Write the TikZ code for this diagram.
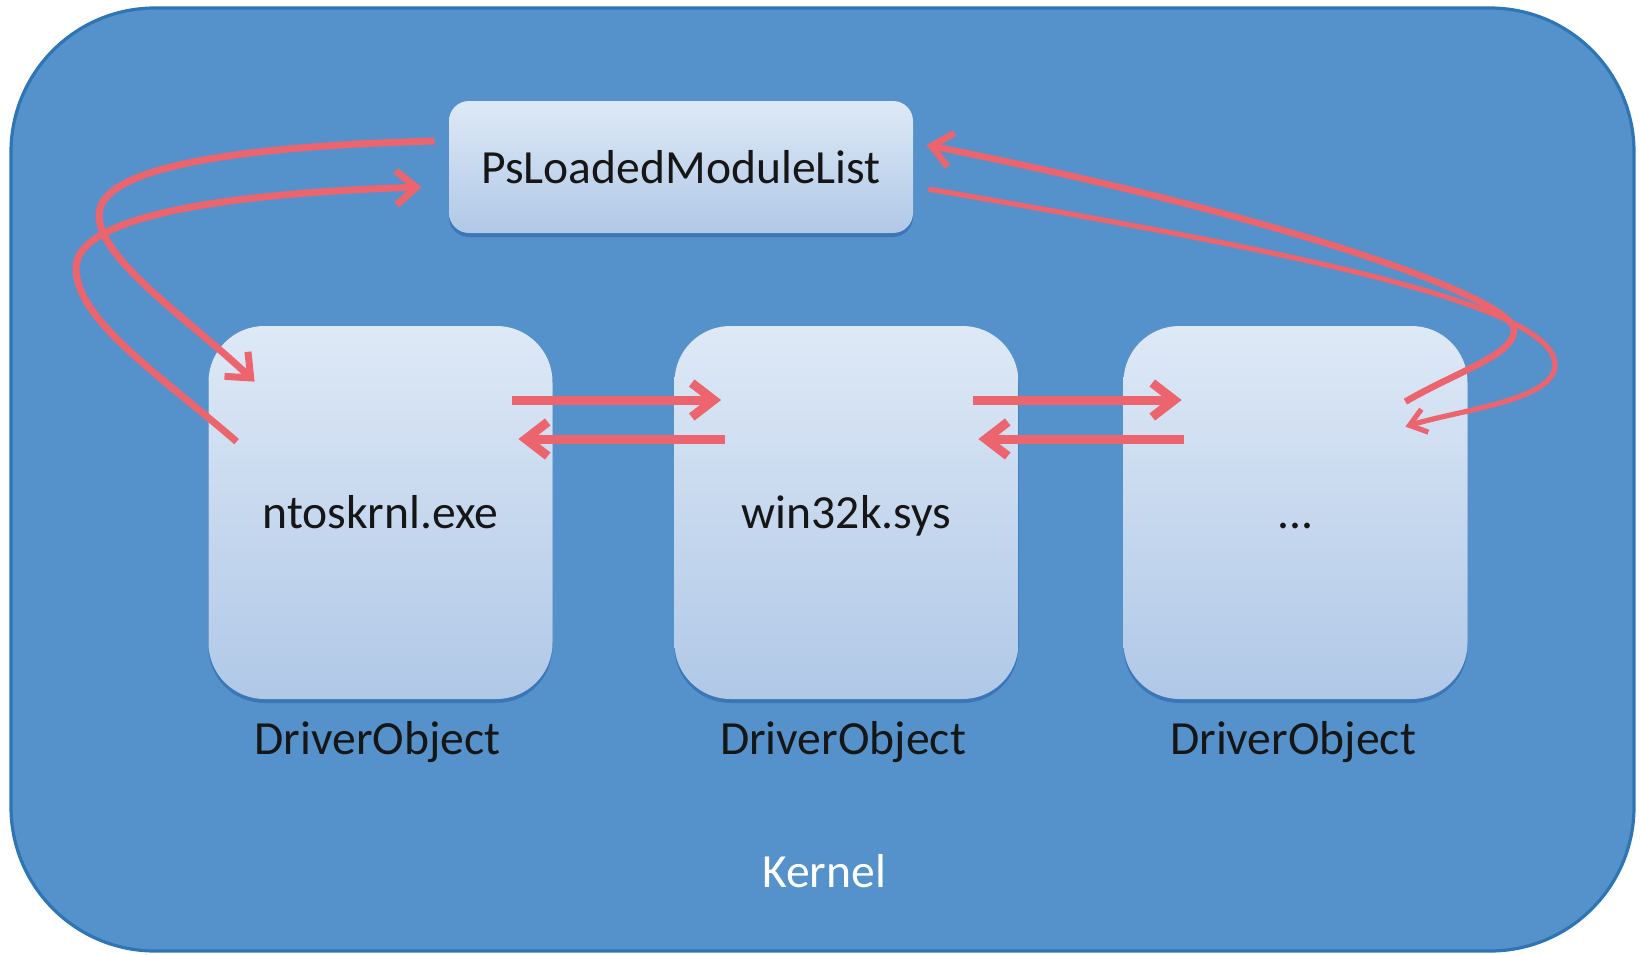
\documentclass[tikz,border=0pt]{standalone}
\usepackage{fontspec}
\setmainfont{Carlito}
\usetikzlibrary{arrows.meta,calc,shadows}

\definecolor{kernelfill}{RGB}{85,146,203}
\definecolor{kernelline}{RGB}{46,117,182}
\definecolor{boxtop}{RGB}{222,233,246}
\definecolor{boxbot}{RGB}{176,200,231}
\definecolor{boxshade}{RGB}{38,98,168}
\definecolor{linkred}{RGB}{236,100,110}
\definecolor{inktext}{RGB}{22,22,22}

\begin{document}
\begin{tikzpicture}[x=0.5pt,y=-0.5pt,
  font=\fontsize{23.8}{28}\selectfont,
  panel/.style={rectangle, rounded corners=10pt, top color=boxtop, bottom color=boxbot,
    drop shadow={shadow xshift=0pt, shadow yshift=-2pt, fill=boxshade, opacity=.55},
    text=inktext, inner sep=0pt},
  listbox/.style={panel, minimum width=232pt, minimum height=66pt},
  drvbox/.style={panel, rounded corners=28pt, minimum width=172pt, minimum height=186.5pt,
    text height=15.5pt, text depth=0pt},
  caption/.style={anchor=base, text=inktext, inner sep=0pt},
  flat/.style={draw=linkred, line width=4.5pt,
    -{Straight Barb[length=11pt, width=17pt]}},
  loop/.style={draw=linkred, line width=3.5pt,
    -{Straight Barb[length=10pt, width=17pt]}},
  thinloop/.style={draw=linkred, line width=2.6pt,
    -{Straight Barb[length=8pt, width=12pt]}}
]
\useasboundingbox (0,0) rectangle (1640,954);

% kernel area
\path[fill=kernelfill, draw=kernelline, line width=1.6pt, rounded corners=72pt]
  (11,8) rectangle (1634,951);
\node[anchor=base, text=white, inner sep=0pt] (kernel) at (824,887) {Kernel};

% module list and driver objects
\node[listbox] (list) at (681,167) {PsLoadedModuleList};
\node[drvbox] (b1) at (380.5,512.5) {ntoskrnl.exe};
\node[drvbox] (b2) at (846.5,512.5) {win32k.sys};
\node[drvbox] (b3) at (1295.5,512.5) {...};

\node[caption] (l1) at (377.5,754) {DriverObject};
\node[caption] (l2) at (843,754) {DriverObject};
\node[caption] (l3) at (1293,754) {DriverObject};

% links between neighbouring driver objects
\draw[flat] ([shift={(-40.5,-112.5)}]b1.east) -- ([shift={(47,-112.5)}]b2.west);
\draw[flat] ([shift={(50.5,-73.5)}]b2.west) -- ([shift={(-34.5,-73.5)}]b1.east);
\draw[flat] ([shift={(-45.5,-112.5)}]b2.east) -- ([shift={(58.5,-112.5)}]b3.west);
\draw[flat] ([shift={(60.5,-73.5)}]b3.west) -- ([shift={(-40.5,-73.5)}]b2.east);

% list head <-> first entry
\draw[loop] ([shift={(-14,-26)}]list.west)
  .. controls (250,146) and (99,165) .. (99,215)
  .. controls (99,260) and (190,320) .. ([shift={(46.5,56)}]b1.north west);
\draw[loop] ([shift={(28.5,116)}]b1.north west)
  .. controls (160,375) and (76,320) .. (76,268)
  .. controls (76,225) and (180,195) .. ([shift={(-27,20)}]list.west);

% list head <-> last entry
\draw[loop, line width=3.3pt] ([shift={(-62.5,76)}]b3.north east)
  .. controls (1460,370) and (1514,355) .. (1514,330)
  .. controls (1514,300) and (1300,220) .. ([shift={(13,-22)}]list.east);
\draw[thinloop] ([shift={(15,22)}]list.east)
  .. controls (1250,245) and (1555,300) .. (1555,365)
  .. controls (1555,400) and (1460,410) .. ([shift={(-62.5,101)}]b3.north east);
\end{tikzpicture}
\end{document}
